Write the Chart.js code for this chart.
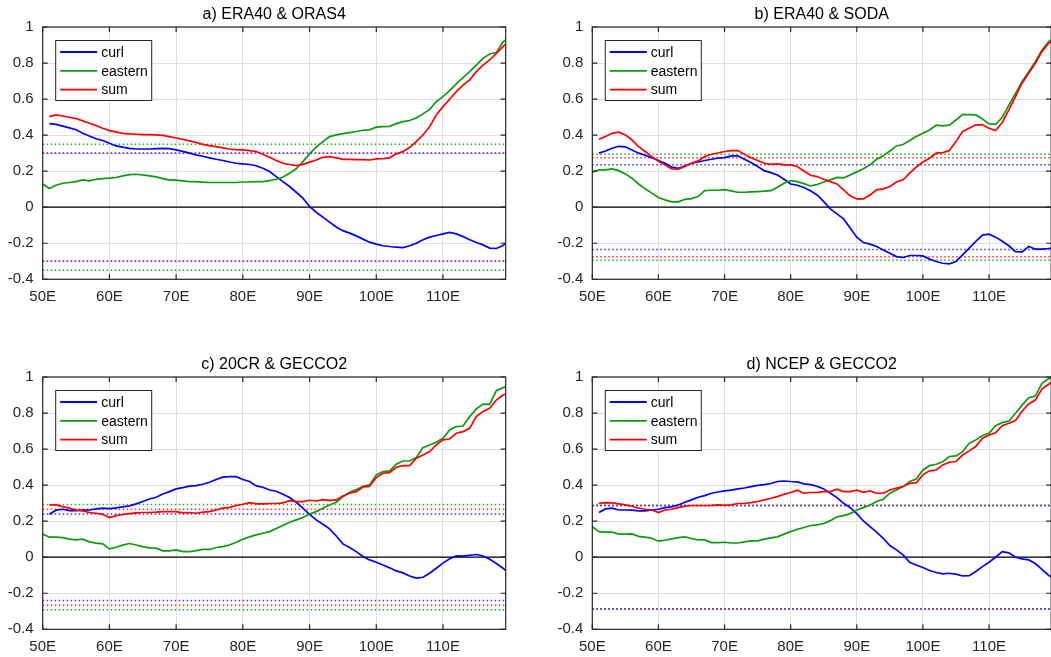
<!DOCTYPE html>
<html>
<head>
<meta charset="utf-8">
<script src="https://cdn.jsdelivr.net/npm/chart.js@4.4.1/dist/chart.umd.min.js"></script>
<style>
  html, body { margin: 0; padding: 0; overflow: hidden; background: #fff; width: 1051px; height: 657px; }
  canvas { position: absolute; }
</style>
</head>
<body>
<canvas id="pa" width="525" height="320" style="left:0;top:0"></canvas>
<canvas id="pb" width="540" height="320" style="left:520px;top:0"></canvas>
<canvas id="pc" width="525" height="320" style="left:0;top:350px"></canvas>
<canvas id="pd" width="540" height="320" style="left:520px;top:350px"></canvas>
<script>
// longitudes (deg E) the correlation curves are sampled at
const lon = [50,
  51, 52, 53, 54, 55, 56, 57, 58, 59, 60,
  61, 62, 63, 64, 65, 66, 67, 68, 69, 70,
  71, 72, 73, 74, 75, 76, 77, 78, 79, 80,
  81, 82, 83, 84, 85, 86, 87, 88, 89, 90,
  91, 92, 93, 94, 95, 96, 97, 98, 99, 100,
  101, 102, 103, 104, 105, 106, 107, 108, 109, 110,
  111, 112, 113, 114, 115, 116, 117, 118, 119, 119.4];
const xRange = [50, 119.4];
const xTicks = [50, 60, 70, 80, 90, 100, 110];
const yTicks = [-0.4, -0.2, 0, 0.2, 0.4, 0.6, 0.8, 1];
const seriesNames = ["curl", "eastern", "sum"];
const titles = ["a) ERA40 & ORAS4", "b) ERA40 & SODA", "c) 20CR & GECCO2", "d) NCEP & GECCO2"];

// a) ERA40 & ORAS4
const curlA = [null,
  0.464, 0.46, 0.45, 0.44, 0.43, 0.41, 0.395, 0.38, 0.37, 0.355,
  0.34, 0.333, 0.327, 0.323, 0.323, 0.323, 0.325, 0.327, 0.325, 0.318,
  0.31, 0.30, 0.29, 0.283, 0.274, 0.266, 0.259, 0.251, 0.244, 0.24,
  0.237, 0.23, 0.216, 0.198, 0.17, 0.142, 0.115, 0.083, 0.05, 0.004,
  -0.028, -0.055, -0.083, -0.11, -0.13, -0.144, -0.159, -0.177, -0.194, -0.205,
  -0.214, -0.218, -0.222, -0.224, -0.214, -0.2, -0.181, -0.166, -0.157, -0.148,
  -0.14, -0.148, -0.163, -0.181, -0.196, -0.209, -0.227, -0.229, -0.213, -0.2];
const eastA = [0.129,
  0.104, 0.122, 0.133, 0.137, 0.142, 0.152, 0.146, 0.155, 0.159, 0.161,
  0.165, 0.174, 0.181, 0.183, 0.179, 0.174, 0.168, 0.159, 0.15, 0.15,
  0.146, 0.142, 0.142, 0.139, 0.137, 0.137, 0.137, 0.137, 0.137, 0.14,
  0.14, 0.142, 0.142, 0.148, 0.155, 0.166, 0.189, 0.213, 0.253, 0.296,
  0.333, 0.364, 0.392, 0.401, 0.408, 0.414, 0.42, 0.427, 0.429, 0.444,
  0.447, 0.449, 0.464, 0.475, 0.481, 0.495, 0.518, 0.543, 0.586, 0.614,
  0.647, 0.684, 0.719, 0.752, 0.789, 0.826, 0.85, 0.858, 0.917, 0.928];
const sumA = [null,
  0.503, 0.512, 0.506, 0.499, 0.492, 0.479, 0.466, 0.453, 0.438, 0.425,
  0.418, 0.41, 0.407, 0.405, 0.403, 0.403, 0.401, 0.399, 0.392, 0.384,
  0.377, 0.368, 0.359, 0.349, 0.342, 0.336, 0.329, 0.323, 0.32, 0.318,
  0.314, 0.309, 0.294, 0.277, 0.259, 0.244, 0.237, 0.231, 0.238, 0.25,
  0.262, 0.277, 0.281, 0.274, 0.266, 0.266, 0.264, 0.264, 0.262, 0.268,
  0.27, 0.274, 0.296, 0.309, 0.331, 0.364, 0.401, 0.447, 0.512, 0.558,
  0.599, 0.641, 0.678, 0.706, 0.752, 0.789, 0.817, 0.854, 0.891, 0.906];
const sigA = [0.30, 0.35, 0.30];   // curl, eastern, sum

// b) ERA40 & SODA
const curlB = [null,
  0.30, 0.312, 0.327, 0.338, 0.335, 0.318, 0.30, 0.288, 0.274, 0.259,
  0.244, 0.222, 0.216, 0.229, 0.244, 0.251, 0.259, 0.266, 0.272, 0.275,
  0.285, 0.285, 0.266, 0.248, 0.226, 0.203, 0.192, 0.179, 0.155, 0.129,
  0.122, 0.109, 0.091, 0.068, 0.031, -0.009, -0.037, -0.065, -0.116, -0.166,
  -0.196, -0.205, -0.218, -0.237, -0.255, -0.274, -0.279, -0.268, -0.268, -0.27,
  -0.288, -0.301, -0.311, -0.314, -0.301, -0.264, -0.227, -0.19, -0.155, -0.15,
  -0.166, -0.189, -0.214, -0.246, -0.248, -0.218, -0.233, -0.233, -0.229, -0.227];
const eastB = [0.194,
  0.207, 0.207, 0.213, 0.203, 0.185, 0.161, 0.129, 0.102, 0.078, 0.054,
  0.041, 0.03, 0.03, 0.044, 0.048, 0.059, 0.092, 0.094, 0.094, 0.098,
  0.091, 0.083, 0.083, 0.085, 0.087, 0.089, 0.092, 0.111, 0.133, 0.148,
  0.142, 0.131, 0.118, 0.126, 0.14, 0.152, 0.165, 0.163, 0.179, 0.196,
  0.213, 0.235, 0.266, 0.285, 0.312, 0.34, 0.348, 0.37, 0.392, 0.41,
  0.429, 0.455, 0.451, 0.455, 0.484, 0.514, 0.514, 0.512, 0.49, 0.462,
  0.46, 0.499, 0.567, 0.632, 0.697, 0.752, 0.808, 0.872, 0.919, 0.928];
const sumB = [null,
  0.377, 0.392, 0.41, 0.416, 0.401, 0.373, 0.336, 0.309, 0.281, 0.255,
  0.235, 0.213, 0.211, 0.226, 0.244, 0.257, 0.281, 0.294, 0.301, 0.309,
  0.314, 0.314, 0.294, 0.275, 0.259, 0.244, 0.238, 0.24, 0.235, 0.235,
  0.226, 0.201, 0.177, 0.17, 0.155, 0.142, 0.129, 0.096, 0.063, 0.046,
  0.046, 0.068, 0.096, 0.102, 0.115, 0.14, 0.152, 0.189, 0.222, 0.251,
  0.272, 0.30, 0.303, 0.314, 0.364, 0.42, 0.438, 0.457, 0.457, 0.438,
  0.425, 0.47, 0.54, 0.614, 0.688, 0.743, 0.799, 0.863, 0.909, 0.919];
const sigB = [0.235, 0.294, 0.275];

// c) 20CR & GECCO2
const curlC = [null,
  0.238, 0.261, 0.266, 0.259, 0.259, 0.261, 0.262, 0.268, 0.272, 0.27,
  0.274, 0.279, 0.285, 0.296, 0.309, 0.323, 0.333, 0.351, 0.364, 0.379,
  0.386, 0.394, 0.397, 0.405, 0.416, 0.431, 0.444, 0.447, 0.447, 0.431,
  0.42, 0.396, 0.388, 0.373, 0.366, 0.349, 0.331, 0.305, 0.272, 0.238,
  0.207, 0.183, 0.157, 0.118, 0.074, 0.054, 0.031, 0.004, -0.015, -0.028,
  -0.043, -0.059, -0.076, -0.087, -0.104, -0.116, -0.111, -0.089, -0.061, -0.033,
  -0.009, 0.007, 0.006, 0.011, 0.015, 0.007, -0.011, -0.035, -0.061, -0.074];
const eastC = [0.129,
  0.111, 0.111, 0.109, 0.1, 0.096, 0.1, 0.085, 0.078, 0.074, 0.046,
  0.055, 0.067, 0.076, 0.068, 0.059, 0.052, 0.05, 0.035, 0.035, 0.041,
  0.031, 0.031, 0.037, 0.043, 0.043, 0.054, 0.059, 0.068, 0.083, 0.1,
  0.113, 0.124, 0.133, 0.142, 0.159, 0.176, 0.194, 0.207, 0.22, 0.24,
  0.253, 0.272, 0.29, 0.305, 0.336, 0.36, 0.375, 0.394, 0.401, 0.457,
  0.475, 0.479, 0.516, 0.534, 0.534, 0.553, 0.608, 0.623, 0.638, 0.66,
  0.706, 0.725, 0.728, 0.78, 0.823, 0.85, 0.848, 0.924, 0.941, 0.945];
const sumC = [null,
  0.29, 0.29, 0.281, 0.272, 0.262, 0.257, 0.248, 0.244, 0.238, 0.22,
  0.231, 0.237, 0.242, 0.246, 0.248, 0.248, 0.25, 0.253, 0.253, 0.253,
  0.246, 0.248, 0.244, 0.25, 0.253, 0.262, 0.272, 0.277, 0.287, 0.294,
  0.303, 0.296, 0.296, 0.298, 0.298, 0.301, 0.314, 0.309, 0.309, 0.316,
  0.312, 0.32, 0.314, 0.318, 0.34, 0.355, 0.364, 0.39, 0.394, 0.442,
  0.466, 0.469, 0.499, 0.508, 0.508, 0.549, 0.567, 0.586, 0.623, 0.651,
  0.656, 0.688, 0.697, 0.715, 0.78, 0.808, 0.826, 0.872, 0.9, 0.906];
const sigC = [0.24, 0.292, 0.266];

// d) NCEP & GECCO2
const curlD = [null,
  0.248, 0.268, 0.272, 0.262, 0.262, 0.261, 0.257, 0.257, 0.262, 0.266,
  0.275, 0.279, 0.29, 0.305, 0.318, 0.333, 0.342, 0.355, 0.362, 0.368,
  0.372, 0.379, 0.384, 0.392, 0.399, 0.403, 0.409, 0.42, 0.423, 0.42,
  0.418, 0.407, 0.403, 0.394, 0.379, 0.355, 0.331, 0.299, 0.275, 0.242,
  0.201, 0.17, 0.139, 0.105, 0.065, 0.041, 0.013, -0.028, -0.043, -0.057,
  -0.074, -0.085, -0.092, -0.089, -0.094, -0.104, -0.102, -0.079, -0.052, -0.028,
  0, 0.031, 0.024, 0, -0.009, -0.015, -0.035, -0.068, -0.1, -0.11];
const eastD = [0.17,
  0.142, 0.139, 0.139, 0.128, 0.128, 0.129, 0.116, 0.111, 0.105, 0.089,
  0.094, 0.102, 0.109, 0.113, 0.104, 0.096, 0.096, 0.081, 0.081, 0.083,
  0.079, 0.079, 0.085, 0.091, 0.091, 0.1, 0.107, 0.113, 0.128, 0.142,
  0.155, 0.165, 0.176, 0.179, 0.187, 0.203, 0.224, 0.231, 0.242, 0.262,
  0.275, 0.29, 0.309, 0.322, 0.355, 0.373, 0.392, 0.42, 0.434, 0.484,
  0.508, 0.516, 0.53, 0.558, 0.562, 0.586, 0.632, 0.651, 0.675, 0.688,
  0.73, 0.747, 0.756, 0.799, 0.844, 0.885, 0.894, 0.965, 0.99, 0.995];
const sumD = [null,
  0.299, 0.303, 0.301, 0.296, 0.29, 0.283, 0.272, 0.266, 0.262, 0.248,
  0.262, 0.266, 0.275, 0.283, 0.287, 0.287, 0.287, 0.288, 0.29, 0.288,
  0.29, 0.298, 0.298, 0.303, 0.309, 0.318, 0.327, 0.336, 0.349, 0.359,
  0.372, 0.355, 0.359, 0.36, 0.364, 0.364, 0.377, 0.364, 0.364, 0.372,
  0.36, 0.368, 0.355, 0.355, 0.373, 0.383, 0.392, 0.41, 0.414, 0.457,
  0.479, 0.484, 0.512, 0.527, 0.531, 0.567, 0.59, 0.614, 0.66, 0.678,
  0.691, 0.73, 0.743, 0.758, 0.81, 0.85, 0.872, 0.933, 0.96, 0.97];
const sigD = [0.287, 0.287, 0.287];

const colors = ["#0000ff", "#0e9a0e", "#ff0000"];
const dotColors = ["#3030ff", "#20b020", "#ff3030"];
const axisGray = "#262626";

Chart.defaults.font.family = '"Liberation Sans", Arial, Helvetica, sans-serif';
Chart.defaults.font.size = 15;
Chart.defaults.color = axisGray;

// Frame, inward tick marks, title and the boxed legend (MATLAB style).
const framePlugin = {
  id: "frame",
  afterDatasetsDraw(chart, args, opts) {
    const { ctx, chartArea: a, scales: { x, y } } = chart;
    ctx.save();
    ctx.strokeStyle = axisGray;
    ctx.lineWidth = 1.2;
    ctx.strokeRect(a.left, a.top, a.right - a.left, a.bottom - a.top);
    ctx.beginPath();
    for (const v of xTicks) {
      const px = x.getPixelForValue(v);
      ctx.moveTo(px, a.top); ctx.lineTo(px, a.top + 5);
      ctx.moveTo(px, a.bottom); ctx.lineTo(px, a.bottom - 5);
    }
    for (const v of yTicks) {
      const py = y.getPixelForValue(v);
      ctx.moveTo(a.left, py); ctx.lineTo(a.left + 5, py);
      ctx.moveTo(a.right, py); ctx.lineTo(a.right - 5, py);
    }
    ctx.stroke();

    ctx.fillStyle = "#000";
    ctx.font = '16px "Liberation Sans", Arial, sans-serif';
    ctx.textAlign = "center";
    ctx.textBaseline = "middle";
    ctx.fillText(opts.title, (a.left + a.right) / 2, a.top - 12);

    // legend box
    const bx = a.left + 12.5, by = a.top + 13, bw = 96, bh = 60;
    ctx.fillStyle = "#fff";
    ctx.fillRect(bx, by, bw, bh);
    ctx.strokeStyle = axisGray;
    ctx.lineWidth = 1;
    ctx.strokeRect(bx + 0.5, by + 0.5, bw, bh);
    ctx.font = '14px "Liberation Sans", Arial, sans-serif';
    ctx.textAlign = "left";
    seriesNames.forEach((name, i) => {
      const ly = by + 12 + i * 18.8;
      ctx.strokeStyle = colors[i];
      ctx.lineWidth = 1.8;
      ctx.beginPath();
      ctx.moveTo(bx + 5, ly); ctx.lineTo(bx + 42, ly);
      ctx.stroke();
      ctx.fillStyle = "#000";
      ctx.fillText(name, bx + 46, ly + 1);
    });
    ctx.restore();
  }
};

function makeDatasets(curl, east, sum, sig) {
  const series = [curl, east, sum];
  const ds = series.map((arr, i) => ({
    label: seriesNames[i],
    data: lon.map((x, j) => ({ x, y: arr[j] })),
    borderColor: colors[i],
    borderWidth: 1.7,
    pointRadius: 0,
    tension: 0,
    order: 3 - i
  }));
  ds.push({
    data: xRange.map(x => ({ x, y: 0 })),
    borderColor: "#000", borderWidth: 1.3, pointRadius: 0, order: 8
  });
  // significance levels: green under red under blue
  [1, 2, 0].forEach((i, k) => {
    [1, -1].forEach(sgn => ds.push({
      data: xRange.map(x => ({ x, y: sgn * sig[i] })),
      borderColor: dotColors[i], borderWidth: 1.5, borderDash: [1.5, 2.5],
      borderCapStyle: "butt",
      pointRadius: 0, order: 12 - k
    }));
  });
  return ds;
}

function makePanel(id, title, curl, east, sum, sig, yWidth, padRight) {
  new Chart(document.getElementById(id), {
    type: "line",
    data: { datasets: makeDatasets(curl, east, sum, sig) },
    plugins: [framePlugin],
    options: {
      responsive: false,
      animation: false,
      devicePixelRatio: 1,
      layout: { padding: { top: 27, right: padRight, left: 0, bottom: 0 } },
      plugins: {
        legend: { display: false },
        tooltip: { enabled: false },
        frame: { title }
      },
      scales: {
        x: {
          type: "linear", min: xRange[0], max: xRange[1],
          afterBuildTicks: s => { s.ticks = xTicks.map(value => ({ value })); },
          afterFit: s => { s.height = 40.7; },
          ticks: { padding: 9, maxRotation: 0, autoSkip: false, callback: v => v + "E" },
          grid: { color: "#dfdfdf", lineWidth: 1, drawTicks: false },
          border: { display: false }
        },
        y: {
          min: -0.4, max: 1,
          afterBuildTicks: s => { s.ticks = yTicks.map(value => ({ value })); },
          afterFit: s => { s.width = yWidth; },
          ticks: { padding: 9, autoSkip: false, callback: v => String(Math.round(v * 10) / 10) },
          grid: { color: "#dfdfdf", lineWidth: 1, drawTicks: false },
          border: { display: false }
        }
      }
    }
  });
}

makePanel("pa", titles[0], curlA, eastA, sumA, sigA, 42.7, 19.3);
makePanel("pb", titles[1], curlB, eastB, sumB, sigB, 72.3, 8.8);
makePanel("pc", titles[2], curlC, eastC, sumC, sigC, 42.7, 19.3);
makePanel("pd", titles[3], curlD, eastD, sumD, sigD, 72.3, 8.8);
</script>
</body>
</html>
